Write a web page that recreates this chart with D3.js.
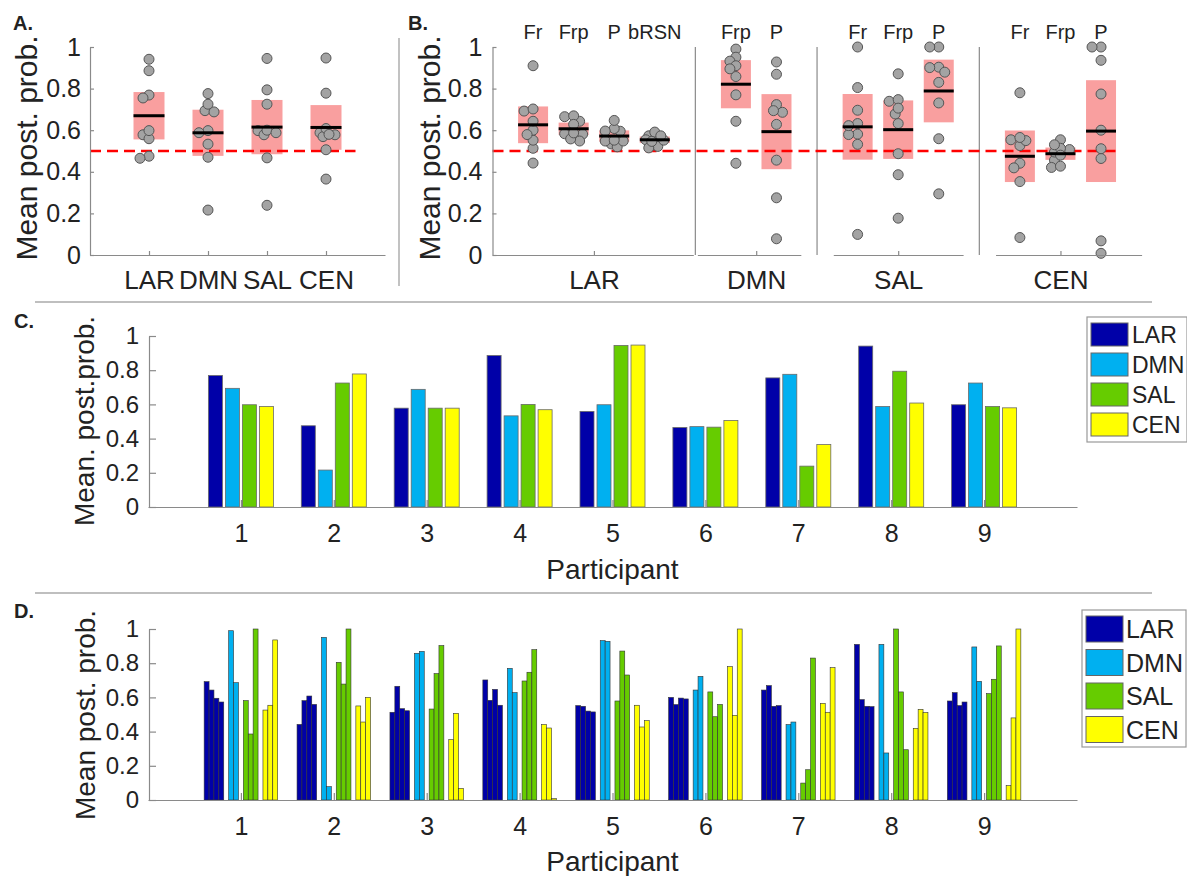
<!DOCTYPE html>
<html><head><meta charset="utf-8">
<script src="https://cdn.jsdelivr.net/npm/d3@7"></script>
<style>
body{margin:0;background:#fff;}
text{font-family:"Liberation Sans",Arial,Helvetica,sans-serif;fill:#222;}
</style></head><body>
<svg id="chart" width="1187" height="876"></svg>
<script>
// ---------------- data ----------------
const networks = ["LAR", "DMN", "SAL", "CEN"];
const participants = ["1", "2", "3", "4", "5", "6", "7", "8", "9"];
const yTicks = [0, 0.2, 0.4, 0.6, 0.8, 1];
const colors = ["#0000a8", "#00b0f0", "#66cc00", "#ffff00"];

// Panel C (and A): mean posterior probability per participant and network
const meanLAR = [0.769, 0.475, 0.578, 0.886, 0.559, 0.465, 0.755, 0.941, 0.598];
const meanDMN = [0.694, 0.216, 0.688, 0.533, 0.598, 0.470, 0.776, 0.588, 0.725];
const meanSAL = [0.598, 0.725, 0.578, 0.600, 0.945, 0.467, 0.239, 0.794, 0.588];
const meanCEN = [0.588, 0.778, 0.578, 0.569, 0.947, 0.506, 0.365, 0.608, 0.580];

// Panel D (and B): sub-network values per participant
const subLAR = ["Fr", "Frp", "P", "bRSN"];
const subDMN = ["Frp", "P"];
const subSAL = ["Fr", "Frp", "P"];
const subCEN = ["Fr", "Frp", "P"];
const larFr   = [0.692, 0.442, 0.513, 0.702, 0.552, 0.600, 0.643, 0.910, 0.579];
const larFrp  = [0.643, 0.581, 0.665, 0.583, 0.548, 0.558, 0.669, 0.587, 0.628];
const larP    = [0.595, 0.608, 0.534, 0.647, 0.520, 0.596, 0.548, 0.548, 0.552];
const larBrsn = [0.573, 0.559, 0.522, 0.554, 0.515, 0.591, 0.552, 0.546, 0.573];
const dmnFrp  = [0.990, 0.951, 0.858, 0.770, 0.932, 0.643, 0.441, 0.910, 0.895];
const dmnP    = [0.686, 0.078, 0.869, 0.628, 0.928, 0.723, 0.456, 0.275, 0.694];
const salFr   = [0.581, 0.805, 0.532, 0.696, 0.579, 0.632, 0.099, 1.000, 0.622];
const salFrp  = [0.386, 0.678, 0.739, 0.747, 0.871, 0.487, 0.177, 0.632, 0.706];
const salP    = [1.000, 1.000, 0.903, 0.879, 0.731, 0.559, 0.830, 0.294, 0.901];
const cenFr   = [0.526, 0.550, 0.353, 0.441, 0.554, 0.780, 0.565, 0.419, 0.084];
const cenFrp  = [0.554, 0.456, 0.507, 0.421, 0.427, 0.495, 0.513, 0.530, 0.480];
const cenP    = [0.936, 0.600, 0.068, 0.008, 0.464, 1.000, 0.774, 0.511, 1.000];
const chance = 0.5;

// ---------------- derived structures ----------------
const means = [meanLAR, meanDMN, meanSAL, meanCEN];
const subNames = [subLAR, subDMN, subSAL, subCEN];
const subVals = [[larFr, larFrp, larP, larBrsn], [dmnFrp, dmnP], [salFr, salFrp, salP], [cenFr, cenFrp, cenP]];
const subCols = [];
const groupSpan = [];
{
  let s = 0;
  subNames.forEach((names, g) => {
    const start = s;
    names.forEach((nm, k) => { subCols.push({g, name: nm, vals: subVals[g][k], slot: s}); s++; });
    groupSpan.push([start, s - 1]);
    s++;
  });
}

const svg = d3.select("#chart");
svg.append("rect").attr("width", 1187).attr("height", 876).attr("fill", "#fff");

const AXC = "#8a8a8a";
function styleAxis(g, fs) {
  g.selectAll(".domain").attr("stroke", AXC).attr("stroke-width", 1.2);
  g.selectAll(".tick line").attr("stroke", AXC).attr("stroke-width", 1.2);
  g.selectAll(".tick text").attr("fill", "#222").attr("font-size", fs)
    .attr("font-family", '"Liberation Sans",Arial,sans-serif');
}

// compact beeswarm: small horizontal offsets, bounded, allowing partial overlap
function swarm(vals, y, step, minD, maxOff) {
  const order = d3.range(vals.length).sort((a, b) => vals[b] - vals[a]);
  const placed = [];
  const off = new Array(vals.length).fill(0);
  const cands = [0];
  for (let k = 1; k * step <= maxOff; k++) { cands.push(-k * step, k * step); }
  order.forEach(i => {
    const yy = y(vals[i]);
    let best = 0, bestD = -1;
    for (const o of cands) {
      const dmin = placed.length ? d3.min(placed, p => Math.hypot(p.x - o, p.y - yy)) : Infinity;
      if (dmin >= minD) { best = o; bestD = Infinity; break; }
      if (dmin > bestD) { bestD = dmin; best = o; }
    }
    off[i] = best; placed.push({x: best, y: yy});
  });
  return off;
}

const BOX = "#f99a9a";
function notBox(g, cx, vals, y, halfW) {
  const m = d3.mean(vals);
  const ci = 1.96 * d3.deviation(vals) / Math.sqrt(vals.length);
  g.append("rect").attr("x", cx - halfW).attr("width", 2 * halfW)
    .attr("y", y(m + ci)).attr("height", y(m - ci) - y(m + ci))
    .attr("fill", BOX).attr("opacity", 0.95);
  return m;
}
function dots(g, cx, vals, y) {
  const off = swarm(vals, y, 3, 6.5, 9);
  g.selectAll(null).data(vals).join("circle")
    .attr("cx", (d, i) => cx + off[i]).attr("cy", d => y(d)).attr("r", 5)
    .attr("fill", "#a3a3a3").attr("stroke", "#555").attr("stroke-width", 1);
}
function meanLine(g, cx, m, y, halfW) {
  g.append("line").attr("x1", cx - halfW).attr("x2", cx + halfW)
    .attr("y1", y(m)).attr("y2", y(m)).attr("stroke", "#000").attr("stroke-width", 3);
}
function dashed(g, x1, x2, y) {
  g.append("line").attr("x1", x1).attr("x2", x2).attr("y1", y(chance)).attr("y2", y(chance))
    .attr("stroke", "#ff0000").attr("stroke-width", 2.5).attr("stroke-dasharray", "11,6");
}
function yLabel(x, cy, txt, fs) {
  svg.append("text").attr("transform", `translate(${x},${cy}) rotate(-90)`)
    .attr("text-anchor", "middle").attr("font-size", fs).text(txt);
}
function panelLabel(x, y, t) {
  svg.append("text").attr("x", x).attr("y", y).attr("font-size", 20).attr("font-weight", "bold")
    .attr("fill", "#111").text(t);
}

// ---------------- separators ----------------
svg.append("line").attr("x1", 399).attr("x2", 399).attr("y1", 38).attr("y2", 286).attr("stroke", "#999").attr("stroke-width", 1.2);
[302, 593].forEach(yy => svg.append("line").attr("x1", 35).attr("x2", 1152).attr("y1", yy).attr("y2", yy)
  .attr("stroke", "#aaa").attr("stroke-width", 1.5));

// ---------------- Panel A ----------------
{
  const x = d3.scaleLinear([0, 5], [90, 385]);
  const y = d3.scaleLinear([0, 1], [255, 47]);
  const g = svg.append("g");
  const ms = means.map((vals, i) => notBox(g, x(i + 1), vals, y, 15.5));
  dashed(g, x(0), x(4.5), y);
  means.forEach((vals, i) => dots(g, x(i + 1), vals, y));
  ms.forEach((m, i) => meanLine(g, x(i + 1), m, y, 15.5));
  const ay = svg.append("g").attr("transform", `translate(${x(0)},0)`)
    .call(d3.axisLeft(y).tickValues(yTicks).tickFormat(d3.format("~g")).tickSizeInner(-4).tickSizeOuter(0).tickPadding(9));
  styleAxis(ay, 25);
  const ax = svg.append("g").attr("transform", `translate(0,${y(0)})`)
    .call(d3.axisBottom(x).tickValues([1, 2, 3, 4]).tickFormat(d => networks[d - 1]).tickSizeInner(-4).tickSizeOuter(0).tickPadding(16));
  styleAxis(ax, 26);
  yLabel(37, 148, "Mean post. prob.", 30);
  panelLabel(13, 30, "A.");
}

// ---------------- Panel B ----------------
{
  const x = d3.scaleLinear([-1, 15], [492.5, 1141.6]);
  const y = d3.scaleLinear([0, 1], [255, 47]);
  const g = svg.append("g");
  groupSpan.slice(0, -1).forEach(([a, b]) => {
    g.append("line").attr("x1", x(b + 1)).attr("x2", x(b + 1)).attr("y1", y(0)).attr("y2", y(1))
      .attr("stroke", AXC).attr("stroke-width", 1.2);
  });
  const ms = subCols.map(c => notBox(g, x(c.slot), c.vals, y, 15));
  dashed(g, x(-1), x(14.5), y);
  subCols.forEach(c => dots(g, x(c.slot), c.vals, y));
  ms.forEach((m, i) => meanLine(g, x(subCols[i].slot), m, y, 15));
  subCols.forEach(c => svg.append("text").attr("x", x(c.slot)).attr("y", 39)
    .attr("text-anchor", "middle").attr("font-size", 20).text(c.name));
  const ay = svg.append("g").attr("transform", `translate(${x(-1)},0)`)
    .call(d3.axisLeft(y).tickValues(yTicks).tickFormat(d3.format("~g")).tickSizeInner(-4).tickSizeOuter(0).tickPadding(10));
  styleAxis(ay, 25);
  const segs = [[-1, 3.95], [4.05, 6.6], [7.4, 10.6], [11.4, 15]];
  groupSpan.forEach(([a, b], gi) => {
    const sx = d3.scaleLinear(segs[gi], segs[gi].map(x));
    const ctr = (a + b) / 2;
    const ax = svg.append("g").attr("transform", `translate(0,${y(0)})`)
      .call(d3.axisBottom(sx).tickValues([ctr]).tickFormat(() => networks[gi]).tickSizeInner(-4).tickSizeOuter(0).tickPadding(16));
    styleAxis(ax, 26);
  });
  yLabel(440, 148, "Mean post. prob.", 30);
  panelLabel(408, 30, "B.");
}

// ---------------- legends ----------------
function legend(x0, y0, w, h, sw, sh, pitch, fs, tx) {
  const g = svg.append("g");
  g.append("rect").attr("x", x0).attr("y", y0).attr("width", w).attr("height", h)
    .attr("fill", "#fff").attr("stroke", "#999").attr("stroke-width", 1.2);
  networks.forEach((n, i) => {
    const ty = y0 + 6 + i * pitch;
    g.append("rect").attr("x", x0 + 4).attr("y", ty).attr("width", sw).attr("height", sh)
      .attr("fill", colors[i]).attr("stroke", "#666").attr("stroke-width", 1);
    g.append("text").attr("x", x0 + tx).attr("y", ty + sh / 2).attr("dy", "0.36em")
      .attr("font-size", fs).text(n);
  });
}

// ---------------- Panel C ----------------
{
  const x = d3.scaleLinear([0, 10], [148, 1077]);
  const y = d3.scaleLinear([0, 1], [507, 336]);
  const inner = d3.scaleBand(networks, [-34, 34]).paddingInner(0.176).paddingOuter(0.088);
  const g = svg.append("g");
  means.forEach((vals, ni) => {
    g.selectAll(null).data(vals).join("rect")
      .attr("x", (d, i) => x(i + 1) + inner(networks[ni]))
      .attr("width", inner.bandwidth())
      .attr("y", d => y(d)).attr("height", d => y(0) - y(d))
      .attr("fill", colors[ni]).attr("stroke", "#6a6a6a").attr("stroke-width", 0.8);
  });
  const ay = svg.append("g").attr("transform", `translate(${x(0) + 1},0)`)
    .call(d3.axisLeft(y).tickValues(yTicks).tickFormat(d3.format("~g")).tickSizeInner(-7).tickSizeOuter(0).tickPadding(10));
  styleAxis(ay, 24);
  const ax = svg.append("g").attr("transform", `translate(0,${y(0)})`)
    .call(d3.axisBottom(x).tickValues(d3.range(1, 10)).tickFormat(d => participants[d - 1]).tickSizeInner(-7).tickSizeOuter(0).tickPadding(17));
  styleAxis(ax, 25);
  svg.append("text").attr("x", (x(0) + x(10)) / 2).attr("y", 579).attr("text-anchor", "middle")
    .attr("font-size", 28).text("Participant");
  yLabel(94, 421, "Mean. post.prob.", 28);
  panelLabel(14, 328, "C.");
  legend(1087, 317, 100, 125, 37, 23, 30, 23, 45);
}

// ---------------- Panel D ----------------
{
  const x = d3.scaleLinear([0, 10], [148, 1077]);
  const y = d3.scaleLinear([0, 1], [800, 629]);
  const nSlots = d3.max(subCols, c => c.slot) + 1;
  const inner = d3.scaleBand(d3.range(nSlots), [-nSlots * 4.9 / 2, nSlots * 4.9 / 2]);
  const g = svg.append("g");
  subCols.forEach(c => {
    g.selectAll(null).data(c.vals).join("rect")
      .attr("x", (d, i) => x(i + 1) + inner(c.slot))
      .attr("width", inner.bandwidth())
      .attr("y", d => y(d)).attr("height", d => y(0) - y(d))
      .attr("fill", colors[c.g]).attr("stroke", "#333").attr("stroke-width", 0.6);
  });
  const ay = svg.append("g").attr("transform", `translate(${x(0) + 1},0)`)
    .call(d3.axisLeft(y).tickValues(yTicks).tickFormat(d3.format("~g")).tickSizeInner(-7).tickSizeOuter(0).tickPadding(10));
  styleAxis(ay, 24);
  const ax = svg.append("g").attr("transform", `translate(0,${y(0)})`)
    .call(d3.axisBottom(x).tickValues(d3.range(1, 10)).tickFormat(d => participants[d - 1]).tickSizeInner(-7).tickSizeOuter(0).tickPadding(17));
  styleAxis(ax, 25);
  svg.append("text").attr("x", (x(0) + x(10)) / 2).attr("y", 871).attr("text-anchor", "middle")
    .attr("font-size", 28).text("Participant");
  yLabel(95, 715, "Mean post. prob.", 28);
  panelLabel(14, 618, "D.");
  legend(1082, 610, 104, 137, 37, 26, 33.5, 25, 44);
}
</script>
</body></html>
